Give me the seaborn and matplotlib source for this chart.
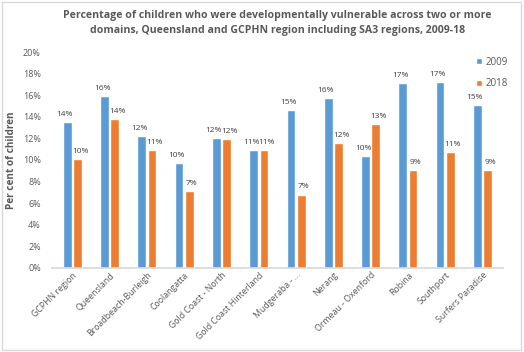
import numpy as np
import pandas as pd
import matplotlib
matplotlib.use('Agg')
import matplotlib.pyplot as plt
import seaborn as sns
from matplotlib.ticker import FuncFormatter
from matplotlib.patches import Rectangle

# 数据
regions = ['GCPHN region', 'Queensland', 'Broadbeach-Burleigh', 'Coolangatta',
           'Gold Coast - North', 'Gold Coast Hinterland', 'Mudgeraba - ...',
           'Nerang', 'Ormeau - Oxenford', 'Robina', 'Southport', 'Surfers Paradise']
vals_2009 = [13.5, 15.9, 12.2, 9.7, 12.0, 10.9, 14.6, 15.7, 10.4, 17.1, 17.2, 15.1]
vals_2018 = [10.1, 13.8, 10.9, 7.1, 11.9, 10.9, 6.8, 11.6, 13.3, 9.1, 10.7, 9.1]
years = ['2009', '2018']
colors = ['#5B9BD5', '#ED7D31']

df = pd.DataFrame({
    'region': regions * 2,
    'year': ['2009'] * len(regions) + ['2018'] * len(regions),
    'value': vals_2009 + vals_2018,
})

sns.set_theme(style='white')
plt.rcParams['font.family'] = ['Open Sans', 'DejaVu Sans']

fig = plt.figure(figsize=(5.24, 3.52), dpi=100)
ax = fig.add_axes([0.099, 0.239, 0.861, 0.613])

sns.barplot(data=df, x='region', y='value', hue='year', hue_order=years,
            palette=colors, width=0.55, gap=0.15, ax=ax, saturation=1)

# 数值标签（两组略微左右错开，避免重叠）
for cont, dx in zip(ax.containers, [-1.8, 1.8]):
    anns = ax.bar_label(cont, labels=[f'{v:.0f}%' for v in cont.datavalues],
                        fontsize=6, color='#404040', padding=3)
    for a in anns:
        a.xyann = (dx, 3)

ax.set_ylim(0, 20)
ax.set_yticks(np.arange(0, 21, 2))
ax.yaxis.set_major_formatter(FuncFormatter(lambda v, p: f'{v:.0f}%'))
ax.tick_params(axis='y', labelsize=6.5, colors='#595959', length=0, pad=8)
ax.tick_params(axis='x', labelsize=6.3, colors='#595959', length=0, pad=2)
plt.setp(ax.get_xticklabels(), rotation=45, ha='right', rotation_mode='anchor')
ax.set_xlabel('')
ax.set_ylabel('Per cent of children', fontsize=7.2, color='#595959', fontweight='bold')
for s in ['top', 'right', 'left']:
    ax.spines[s].set_visible(False)
ax.spines['bottom'].set_color('#D9D9D9')
ax.set_xlim(-0.55, len(regions) - 0.45)

leg = ax.legend(loc='upper right', bbox_to_anchor=(1.03, 1.02), frameon=False,
                fontsize=7, handlelength=0.6, handleheight=0.6,
                labelspacing=1.1, handletextpad=0.4)
for t in leg.get_texts():
    t.set_color('#595959')

fig.text(0.53, 0.935, 'Percentage of children who were developmentally vulnerable across two or more\n'
         'domains, Queensland and GCPHN region including SA3 regions, 2009-18',
         ha='center', va='center', fontsize=7.6, fontweight='bold', color='#595959',
         linespacing=1.45)

fig.patches.append(Rectangle((0.004, 0.006), 0.99, 0.988, transform=fig.transFigure,
                             fill=False, edgecolor='#D9D9D9', linewidth=1))

fig.savefig('out.png', dpi=100)
